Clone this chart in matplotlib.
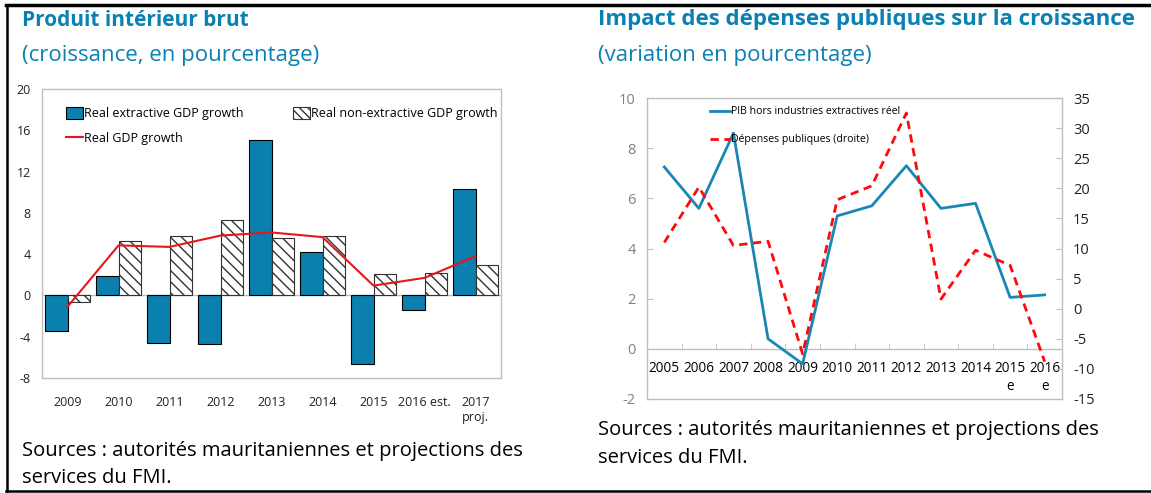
import matplotlib
matplotlib.use("Agg")
import matplotlib.pyplot as plt
from matplotlib.lines import Line2D
from matplotlib.patches import Patch
import numpy as np

plt.rcParams['font.family'] = ['Open Sans', 'DejaVu Sans']
plt.rcParams['hatch.linewidth'] = 1.0
plt.rcParams['axes.unicode_minus'] = False

# ---- Left chart data ----
years_left = ["2009", "2010", "2011", "2012", "2013", "2014", "2015", "2016 est.", "2017\nproj."]
extractive = [-3.4, 1.9, -4.65, -4.7, 15.1, 4.2, -6.65, -1.4, 10.3]
non_extractive = [-0.6, 5.3, 5.75, 7.35, 5.6, 5.75, 2.05, 2.2, 2.9]
real_gdp = [-1.1, 4.85, 4.7, 5.8, 6.1, 5.65, 0.95, 1.7, 3.8]
left_yticks = [-8, -4, 0, 4, 8, 12, 16, 20]

# ---- Right chart data ----
years_right = ["2005", "2006", "2007", "2008", "2009", "2010", "2011", "2012",
               "2013", "2014", "2015\ne", "2016\ne"]
pib_hors = [7.25, 5.6, 8.6, 0.4, -0.6, 5.3, 5.7, 7.3, 5.6, 5.8, 2.05, 2.15]
depenses = [11.0, 20.2, 10.5, 11.2, -7.5, 18.1, 20.4, 32.5, 1.6, 9.7, 7.2, -8.8]
right_yticks_left = [-2, 0, 2, 4, 6, 8, 10]
right_yticks_right = [-15, -10, -5, 0, 5, 10, 15, 20, 25, 30, 35]

BLUE = '#0b7fae'
TITLE_BLUE = '#0a80b3'
GRID_GREY = '#bfbfbf'

W, H = 1151, 493
fig = plt.figure(figsize=(W / 100, H / 100), dpi=100)

def fx(px):
    return px / W

def fy(py):
    return 1 - py / H

# ---------------- Left chart ----------------
axL = fig.add_axes([fx(42), fy(378), fx(501) - fx(42), fy(89) - fy(378)])
x = np.arange(len(years_left))
bw = 0.45
axL.bar(x - bw / 2, extractive, width=bw, color=BLUE, edgecolor='black', linewidth=0.8,
        label='Real extractive GDP growth', zorder=2)
axL.bar(x + bw / 2, non_extractive, width=bw, color='white', edgecolor='#333333', linewidth=0.8,
        hatch='\\\\\\', label='Real non-extractive GDP growth', zorder=2)
axL.plot(x, real_gdp, color='#e8161c', linewidth=1.5, label='Real GDP growth', zorder=3)
axL.axhline(0, color=GRID_GREY, linewidth=1.0, zorder=1)
axL.set_xlim(-0.5, len(years_left) - 0.5)
axL.set_ylim(-8, 20)
axL.set_yticks(left_yticks)
axL.set_xticks(x)
axL.set_xticklabels(years_left)
axL.tick_params(axis='both', length=0, labelsize=9, colors='#222222')
axL.tick_params(axis='x', pad=13)
axL.tick_params(axis='y', pad=8)
for s in axL.spines.values():
    s.set_color(GRID_GREY)
    s.set_linewidth(1.0)

h_ext = Patch(facecolor=BLUE, edgecolor='black', linewidth=0.8)
h_non = Patch(facecolor='white', edgecolor='#333333', hatch='\\\\\\\\', linewidth=0.8)
h_gdp = Line2D([0], [0], color='#e8161c', linewidth=1.5)
legL = axL.legend([h_ext, h_gdp, h_non],
                  ['Real extractive GDP growth', 'Real GDP growth', 'Real non-extractive GDP growth'],
                  ncol=2, loc='upper left', bbox_to_anchor=(0.037, 0.965), frameon=False,
                  fontsize=9, handlelength=1.3, handleheight=1.1, handletextpad=0.1,
                  columnspacing=4.0, labelspacing=0.95, borderaxespad=0.2)

# ---------------- Right chart ----------------
axR = fig.add_axes([fx(647), fy(399), fx(1062) - fx(647), fy(98) - fy(399)])
xr = np.arange(len(years_right))
l1, = axR.plot(xr, pib_hors, color='#1a86b5', linewidth=2.0, zorder=3,
               label='PIB hors industries extractives réel')
axR.set_xlim(-0.5, len(years_right) - 0.5)
axR.set_ylim(-2, 10)
axR.set_yticks(right_yticks_left)
axR.spines['bottom'].set_position(('data', 0))
axR.set_xticks(xr)
axR.set_xticklabels(years_right)
axR.set_xticks(np.arange(len(years_right) - 1) + 0.5, minor=True)
axR.tick_params(axis='x', which='major', length=0, pad=9, labelsize=9.8, colors='black')
axR.tick_params(axis='x', which='minor', direction='in', length=4, color=GRID_GREY)
axR.tick_params(axis='y', direction='in', length=4, color=GRID_GREY, labelsize=10.5,
                labelcolor='#808080', pad=8)
for s in axR.spines.values():
    s.set_color(GRID_GREY)
    s.set_linewidth(1.0)
axR.plot([0, 1], [0, 0], transform=axR.transAxes, color=GRID_GREY, linewidth=1.0, clip_on=False)

axR2 = axR.twinx()
l2, = axR2.plot(xr, depenses, color='#ff0a0a', linewidth=2.0, linestyle=(0, (3, 2)), zorder=3,
                label='Dépenses publiques (droite)')
axR2.set_ylim(-15, 35)
axR2.set_yticks(right_yticks_right)
axR2.tick_params(axis='y', direction='in', length=4, color=GRID_GREY, labelsize=10.5,
                 labelcolor='#222222', pad=8)
for s in axR2.spines.values():
    s.set_visible(False)

axR2.legend([l1, l2], ['PIB hors industries extractives réel', 'Dépenses publiques (droite)'],
            loc='upper left', bbox_to_anchor=(0.135, 0.995), frameon=False, fontsize=7.6,
            handlelength=1.9, handletextpad=0.1, labelspacing=1.6, borderaxespad=0.25)

# ---------------- Titles & notes ----------------
fig.text(fx(22), fy(20), 'Produit intérieur brut', fontsize=15, fontweight='bold',
         color=TITLE_BLUE, va='center', ha='left')
fig.text(fx(22), fy(55), '(croissance, en pourcentage)', fontsize=16,
         color=TITLE_BLUE, va='center', ha='left')
fig.text(fx(598), fy(20), 'Impact des dépenses publiques sur la croissance', fontsize=16,
         fontweight='bold', color=TITLE_BLUE, va='center', ha='left')
fig.text(fx(598), fy(55), '(variation en pourcentage)', fontsize=16,
         color=TITLE_BLUE, va='center', ha='left')

fig.text(fx(22), fy(451), 'Sources : autorités mauritaniennes et projections des',
         fontsize=14.5, color='black', va='center', ha='left')
fig.text(fx(22), fy(478), 'services du FMI.', fontsize=14.5, color='black', va='center', ha='left')
fig.text(fx(598), fy(430), 'Sources : autorités mauritaniennes et projections des',
         fontsize=14.5, color='black', va='center', ha='left')
fig.text(fx(598), fy(458), 'services du FMI.', fontsize=14.5, color='black', va='center', ha='left')

# ---------------- Outer border ----------------
fig.add_artist(Line2D([fx(6), 1.0], [fy(5), fy(5)], color='black', linewidth=2.5))
fig.add_artist(Line2D([fx(7), fx(7)], [fy(5), fy(491)], color='black', linewidth=1.8))
fig.add_artist(Line2D([fx(6), 1.0], [fy(491), fy(491)], color='black', linewidth=1.8))

fig.savefig('out.png', dpi=100)
